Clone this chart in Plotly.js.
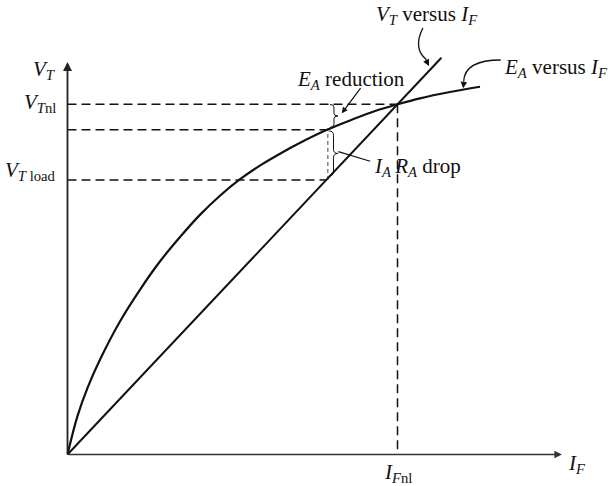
<!DOCTYPE html>
<html>
<head>
<meta charset="utf-8">
<script src="https://cdn.plot.ly/plotly-3.0.1.min.js"></script>
<style>html,body{margin:0;padding:0;background:#fff;}#chart{width:610px;height:486px;}</style>
</head>
<body>
<div id="chart"></div>
<script>
// ---- data (normalised: I_Fnl = 1, V_Tnl = 1) ----
const ifCurve = [0, 0.030, 0.061, 0.099, 0.159, 0.220, 0.280, 0.341, 0.402, 0.462, 0.523, 0.583, 0.644, 0.705, 0.786, 0.856, 0.932, 1.0, 1.068, 1.159, 1.25];
const eaCurve = [0, 0.109, 0.191, 0.272, 0.380, 0.471, 0.551, 0.621, 0.685, 0.739, 0.786, 0.825, 0.859, 0.890, 0.927, 0.954, 0.981, 1.0, 1.017, 1.035, 1.050];
const vtLineIF = [0, 1.133];
const vtLineVT = [0, 1.133];
const IFnl = 1.0, VTnl = 1.0;
const IFload = 0.785, VTload = 0.784, EAload = 0.927;
const yLabels = ['<i>V</i><sub><i>T</i>nl</sub>', '<i>V</i><sub><i>T</i> load</sub>'];
const xLabels = ['<i>I</i><sub><i>F</i>nl</sub>'];
const axisTitles = ['<i>I<sub>F</sub></i>', '<i>V<sub>T</sub></i>'];
const curveLabels = ['<i>V<sub>T</sub></i> versus <i>I<sub>F</sub></i>', '<i>E<sub>A</sub></i> versus <i>I<sub>F</sub></i>',
                     '<i>E<sub>A</sub></i> reduction', '<i>I<sub>A</sub>\u2009R<sub>A</sub></i> drop'];

const BLACK = '#111';
const dashStyle = {color: BLACK, width: 1.5, dash: '9px,5px'};
const FONT = {family: 'Liberation Serif, Times New Roman, serif', size: 21, color: BLACK};

const traces = [
  {x: ifCurve, y: eaCurve, mode: 'lines', line: {color: BLACK, width: 2.2, shape: 'spline', smoothing: 1}, hoverinfo: 'skip'},
  {x: vtLineIF, y: vtLineVT, mode: 'lines', line: {color: BLACK, width: 2}, hoverinfo: 'skip'},
  {x: [0, IFnl], y: [VTnl, VTnl], mode: 'lines', line: dashStyle, hoverinfo: 'skip'},
  {x: [IFnl, IFnl], y: [VTnl, 0], mode: 'lines', line: dashStyle, hoverinfo: 'skip'},
  {x: [0, IFload], y: [EAload, EAload], mode: 'lines', line: dashStyle, hoverinfo: 'skip'},
  {x: [0, IFload], y: [VTload, VTload], mode: 'lines', line: dashStyle, hoverinfo: 'skip'},
  {x: [IFload + 0.004, IFload + 0.004], y: [VTload, EAload], mode: 'lines', line: {color: BLACK, width: 0.8, dash: '4px,3px'}, hoverinfo: 'skip'}
];

function brace(x0, yt, yb, w, q) {
  const xm = x0 + w / 2, xt = x0 + w, ym = (yt + yb) / 2;
  return `M ${x0},${yt} Q ${xm},${yt} ${xm},${yt - q} L ${xm},${ym + q} Q ${xm},${ym} ${xt},${ym} ` +
         `Q ${xm},${ym} ${xm},${ym - q} L ${xm},${yb + q} Q ${xm},${yb} ${x0},${yb}`;
}

const shapes = [
  // curved leader lines
  {type: 'path', xref: 'x', yref: 'y', path: 'M 1.077,1.2179 Q 1.046,1.160 1.087,1.128', line: {color: BLACK, width: 1.3}},
  {type: 'path', xref: 'x', yref: 'y', path: 'M 1.313,1.1265 Q 1.204,1.1265 1.2005,1.066', line: {color: BLACK, width: 1.3}},
  // braces
  {type: 'path', xref: 'x', yref: 'y', path: brace(0.7955, 0.9994, 0.9338, 0.024, 0.008), line: {color: BLACK, width: 1}},
  {type: 'path', xref: 'x', yref: 'y', path: brace(0.792, 0.9238, 0.7953, 0.028, 0.012), line: {color: BLACK, width: 1}}
];

const arrowBase = {xref: 'x', yref: 'y', axref: 'x', ayref: 'y', text: '', showarrow: true, arrowcolor: BLACK};
const annotations = [
  // axes
  Object.assign({}, arrowBase, {x: 0, y: 1.121, ax: 0, ay: 0, arrowhead: 2, arrowsize: 1, arrowwidth: 1.8, arrowcolor: '#222'}),
  Object.assign({}, arrowBase, {x: 1.498, y: 0, ax: 0, ay: 0, arrowhead: 2, arrowsize: 1, arrowwidth: 1.5, arrowcolor: '#333'}),
  // arrow heads of leaders
  Object.assign({}, arrowBase, {x: 1.0955, y: 1.1093, ax: 1.0833, ay: 1.1322, arrowhead: 2, arrowsize: 1, arrowwidth: 1.3}),
  Object.assign({}, arrowBase, {x: 1.199, y: 1.0457, ax: 1.2015, ay: 1.0694, arrowhead: 2, arrowsize: 1, arrowwidth: 1.3}),
  Object.assign({}, arrowBase, {x: 0.831, y: 0.9743, ax: 0.8915, ay: 1.0503, arrowhead: 2, arrowsize: 1, arrowwidth: 1.2}),
  Object.assign({}, arrowBase, {x: 0.8206, y: 0.8647, ax: 0.9218, ay: 0.8361, arrowhead: 0, arrowwidth: 1.2}),
  // labels
  {xref: 'x', yref: 'y', x: -0.029, y: 1.098, text: axisTitles[1], showarrow: false, xanchor: 'right', yanchor: 'middle', font: FONT},
  {xref: 'x', yref: 'y', x: -0.029, y: VTnl + 0.005, text: yLabels[0], showarrow: false, xanchor: 'right', yanchor: 'middle', font: FONT},
  {xref: 'x', yref: 'y', x: -0.029, y: VTload + 0.025, text: yLabels[1], showarrow: false, xanchor: 'right', yanchor: 'middle', font: FONT},
  {xref: 'x', yref: 'y', x: IFnl, y: -0.052, text: xLabels[0], showarrow: false, xanchor: 'center', yanchor: 'middle', font: FONT},
  {xref: 'x', yref: 'y', x: 1.51, y: -0.027, text: axisTitles[0], showarrow: false, xanchor: 'left', yanchor: 'middle', font: FONT},
  {xref: 'x', yref: 'y', x: 1.089, y: 1.256, text: curveLabels[0], showarrow: false, xanchor: 'center', yanchor: 'middle', font: FONT},
  {xref: 'x', yref: 'y', x: 1.318, y: 1.104, text: curveLabels[1], showarrow: false, xanchor: 'left', yanchor: 'middle', font: FONT},
  {xref: 'x', yref: 'y', x: 0.689, y: 1.069, text: curveLabels[2], showarrow: false, xanchor: 'left', yanchor: 'middle', font: FONT},
  {xref: 'x', yref: 'y', x: 0.923, y: 0.822, text: curveLabels[3], showarrow: false, xanchor: 'left', yanchor: 'middle', font: FONT}
];

const layout = {
  width: 610, height: 486,
  margin: {l: 0, r: 0, t: 0, b: 0},
  paper_bgcolor: '#fff', plot_bgcolor: '#fff',
  showlegend: false,
  xaxis: {range: [-0.2045, 1.6439], visible: false, fixedrange: true},
  yaxis: {range: [-0.0899, 1.2978], visible: false, fixedrange: true},
  shapes: shapes,
  annotations: annotations
};

Plotly.newPlot('chart', traces, layout, {staticPlot: true, displayModeBar: false});
</script>
</body>
</html>
